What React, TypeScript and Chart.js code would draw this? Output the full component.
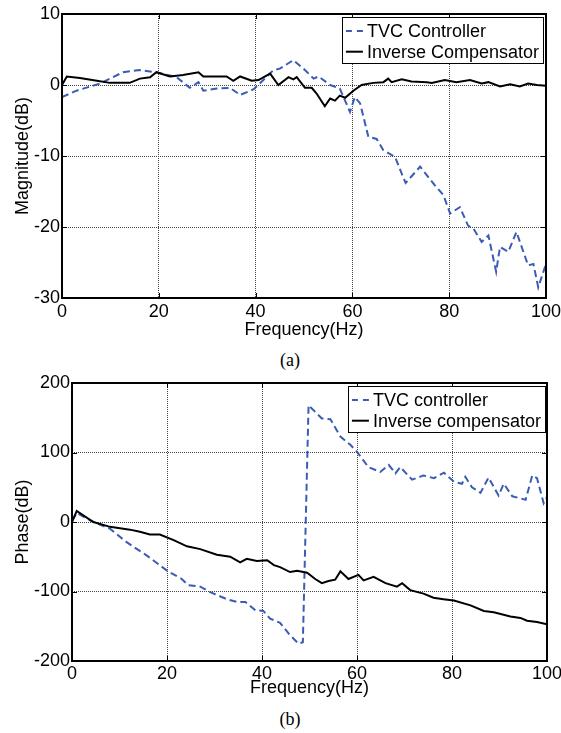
import React, { useEffect, useRef } from 'react';
import { Chart, registerables } from 'chart.js';
Chart.register(...registerables);

// ---- data ----
const freqTicks = [0, 20, 40, 60, 80, 100];
const magTicks = [-30, -20, -10, 0, 10];
const phaseTicks = [-200, -100, 0, 100, 200];

const magTvcFreq = [0, 3, 7.8, 12.6, 16, 19.5, 23.7, 26.4, 28.2, 29.2, 32, 34.7, 36.8, 39.6, 41.6, 43.7, 45, 47.8, 49.9, 52, 53, 55.4, 57.4, 59.5, 60.5, 61.6, 63.3, 65, 66.4, 68.8, 70.5, 71, 74, 77, 78.8, 80.2, 82.2, 83.9, 85, 86.7, 88.1, 89.7, 90.5, 92.2, 93.9, 96.3, 97.4, 98.4, 100];
const magTvcDb = [-1.7, -0.8, 0.2, 1.8, 2.1, 1.8, 1.1, -0.4, 0.4, -0.8, -0.5, -0.4, -1.4, -0.6, 0.7, 2.1, 2.3, 3.5, 2.3, 0.9, 1.2, 0, -0.5, -3.8, -1.7, -2.6, -7.3, -7.6, -9.2, -10.1, -13, -13.8, -11.5, -14.1, -15.5, -18.1, -17.2, -19.8, -20.2, -22.1, -21.2, -26.3, -22.8, -23.5, -20.7, -25.4, -25.2, -28.5, -25.2];

const magInvFreq = [0, 1, 3.7, 7.2, 9.9, 14, 16.1, 18.2, 19.5, 22.3, 25, 28.2, 29.2, 34, 35.4, 36.8, 39.2, 40.6, 43, 44.7, 46.8, 47.8, 48.5, 50.2, 51.6, 52.6, 54.3, 55.4, 56.4, 57.4, 58.5, 60.2, 61.9, 64.3, 66.4, 67.4, 68.1, 70.2, 72.2, 75.4, 76.4, 79.1, 81.5, 84.3, 86.7, 88.1, 90.5, 92.6, 94.6, 96.3, 98.1, 100];
const magInvDb = [0, 1.2, 1.0, 0.6, 0.3, 0.3, 0.9, 1.1, 1.8, 1.2, 1.4, 1.8, 1.2, 1.2, 0.6, 1.2, 0.6, 0.7, 1.6, 0, 1.1, 0.8, 1.1, -0.4, -0.4, -1.2, -3.0, -1.9, -2.2, -1.5, -1.8, -0.8, 0, 0.3, 0.4, 0.9, 0.4, 0.8, 0.5, 0.4, 0.3, 0.7, 0.4, 0.7, 0.2, 0.4, -0.2, 0.1, -0.2, 0.2, 0, -0.1];

const phaseTvcFreq = [0, 1, 4.5, 8, 11.5, 15.7, 20, 23.1, 24.5, 27, 29.1, 32.6, 34.7, 36.5, 38.6, 40.3, 41.7, 43.8, 45.9, 47.7, 48.6, 49.8, 52.6, 54.4, 56.5, 58.6, 60, 62.4, 64.9, 66.7, 68.1, 69.1, 71.6, 74, 76.2, 78.3, 80.4, 82.1, 82.8, 84.2, 86, 87.7, 89.8, 90.9, 92.7, 95.5, 96.9, 97.9, 99.3, 100];
const phaseTvcDeg = [2, 13, 0, -9.6, -29, -48, -70, -82, -91, -93, -101, -111, -115, -115, -127, -128, -139, -145, -163, -175, -173, 168, 149, 148, 123, 111, 101, 79, 72, 82, 70, 79, 61, 67, 63, 71, 58, 55, 65, 50, 42, 64, 38, 55, 37, 32, 67, 63, 27, 36];

const phaseInvFreq = [0, 1, 4.5, 8, 12.2, 14.3, 16.4, 18.5, 21.4, 24.2, 27, 30.5, 33.3, 35.4, 36.8, 38.9, 41.1, 42.5, 43.8, 45.9, 47.4, 49.5, 51.2, 52.6, 54, 55.4, 56.5, 58.2, 60.3, 61.4, 63.5, 66, 68.4, 69.5, 71.2, 74, 76.1, 78.2, 80.4, 83.9, 86.7, 88.8, 92.3, 94.4, 95.8, 97.9, 100];
const phaseInvDeg = [0, 16, 0, -7, -11, -14, -18, -18, -26, -35, -39, -47, -50, -58, -53, -56, -55, -62, -65, -72, -70, -73, -82, -88, -85, -83, -71, -82, -76, -84, -79, -88, -93, -88, -98, -103, -109, -111, -113, -120, -128, -130, -136, -138, -142, -144, -147];

const magLegend = ['TVC Controller', 'Inverse Compensator'];
const phaseLegend = ['TVC controller', 'Inverse compensator'];

const FONT = '"Liberation Sans", Arial, sans-serif';
const BLUE = '#3a5cb3';

const toPoints = (xs: number[], ys: number[]) => xs.map((x, i) => ({ x, y: ys[i] }));

const framePlugin = {
  id: 'matlabFrame',
  afterDatasetsDraw(chart: any, _args: any, opts: any) {
    const { ctx, chartArea: a, scales } = chart;
    const xs = scales.x;
    const ys = scales.y;
    ctx.save();
    ctx.strokeStyle = '#000';
    ctx.lineWidth = 1;
    ctx.setLineDash([]);
    ctx.beginPath();
    xs.ticks.forEach((t: any) => {
      const px = Math.round(xs.getPixelForValue(t.value)) + 0.5;
      ctx.moveTo(px, a.bottom);
      ctx.lineTo(px, a.bottom - 5);
      ctx.moveTo(px, a.top);
      ctx.lineTo(px, a.top + 5);
    });
    ys.ticks.forEach((t: any) => {
      const py = Math.round(ys.getPixelForValue(t.value)) + 0.5;
      ctx.moveTo(a.left, py);
      ctx.lineTo(a.left + 5, py);
      ctx.moveTo(a.right, py);
      ctx.lineTo(a.right - 5, py);
    });
    ctx.stroke();
    ctx.lineWidth = 2;
    ctx.strokeRect(a.left, a.top, a.right - a.left, a.bottom - a.top);

    // legend box
    const labels: string[] = opts.labels;
    ctx.font = '18px ' + FONT;
    const tw = Math.max(...labels.map((l) => ctx.measureText(l).width));
    const w = 4 + 17 + 4 + tw + 4;
    const h = 46;
    const right = a.right - opts.insetRight;
    const left = right - w;
    const top = a.top + opts.insetTop;
    ctx.fillStyle = '#fff';
    ctx.fillRect(left, top, w, h);
    ctx.lineWidth = 1;
    ctx.strokeStyle = '#000';
    ctx.strokeRect(Math.round(left) + 0.5, top + 0.5, Math.round(w), h);
    const rows = [top + 14, top + 34.7];
    const styles = [
      { color: BLUE, dash: [6, 5] },
      { color: '#000', dash: [] as number[] },
    ];
    rows.forEach((ry, i) => {
      ctx.strokeStyle = styles[i].color;
      ctx.lineWidth = 2;
      ctx.setLineDash(styles[i].dash);
      ctx.beginPath();
      ctx.moveTo(left + 4, ry);
      ctx.lineTo(left + 21, ry);
      ctx.stroke();
      ctx.setLineDash([]);
      ctx.fillStyle = '#000';
      ctx.textBaseline = 'middle';
      ctx.textAlign = 'left';
      ctx.fillText(labels[i], left + 25, ry + 1);
    });
    ctx.restore();
  },
};

type PlotProps = {
  top: number;
  height: number;
  yWidth: number;
  xHeight: number;
  padTop: number;
  padRight: number;
  yMin: number;
  yMax: number;
  yStep: number;
  yTitle: string;
  xTitlePad: number;
  xTickPad: number;
  series: { pts: { x: number; y: number }[]; color: string; dash: number[] }[];
  legend: string[];
  insetRight: number;
  insetTop: number;
};

function Plot(p: PlotProps) {
  const ref = useRef<HTMLCanvasElement | null>(null);
  useEffect(() => {
    if (!ref.current) return;
    const chart = new Chart(ref.current, {
      type: 'line',
      data: {
        datasets: p.series.map((s, i) => ({
          data: s.pts,
          borderColor: s.color,
          borderWidth: 2,
          borderDash: s.dash,
          pointRadius: 0,
          tension: 0,
          fill: false,
          order: i === 0 ? 2 : 1,
        })),
      },
      options: {
        responsive: false,
        animation: false,
        parsing: false as any,
        layout: { padding: { top: p.padTop, right: p.padRight, left: 0, bottom: 0 } },
        plugins: {
          legend: { display: false },
          tooltip: { enabled: false },
          matlabFrame: { labels: p.legend, insetRight: p.insetRight, insetTop: p.insetTop },
        } as any,
        scales: {
          x: {
            type: 'linear',
            min: 0,
            max: 100,
            afterBuildTicks: (s: any) => {
              s.ticks = freqTicks.map((v) => ({ value: v }));
            },
            afterFit: (s: any) => {
              s.height = p.xHeight;
              s.paddingLeft = 0;
              s.paddingRight = 0;
            },
            ticks: { font: { size: 18, family: FONT }, color: '#000', padding: p.xTickPad, maxRotation: 0 },
            grid: { color: '#444', lineWidth: 1, drawTicks: false },
            border: { display: false, dash: [1, 1] },
            title: {
              display: true,
              text: 'Frequency(Hz)',
              font: { size: 18, family: FONT, lineHeight: 1 },
              color: '#000',
              padding: { top: 0, bottom: p.xTitlePad },
            },
          },
          y: {
            type: 'linear',
            min: p.yMin,
            max: p.yMax,
            afterBuildTicks: (s: any) => {
              const arr: { value: number }[] = [];
              for (let v = p.yMin; v <= p.yMax; v += p.yStep) arr.push({ value: v });
              s.ticks = arr;
            },
            afterFit: (s: any) => {
              s.width = p.yWidth;
              s.paddingTop = 0;
              s.paddingBottom = 0;
            },
            ticks: { font: { size: 18, family: FONT }, color: '#000', padding: 2 },
            grid: { color: '#444', lineWidth: 1, drawTicks: false },
            border: { display: false, dash: [1, 1] },
            title: {
              display: true,
              text: p.yTitle,
              font: { size: 18, family: FONT, lineHeight: 1 },
              color: '#000',
              padding: { top: 14, bottom: 0 },
            },
          },
        },
      },
      plugins: [framePlugin],
    });
    return () => chart.destroy();
  }, []);
  return (
    <canvas
      ref={ref}
      width={561}
      height={p.height}
      style={{ position: 'absolute', left: 0, top: p.top, width: 561, height: p.height }}
    />
  );
}

export default function App() {
  const caption: React.CSSProperties = {
    position: 'absolute',
    left: 250,
    width: 80,
    textAlign: 'center',
    fontFamily: '"Liberation Serif", "Times New Roman", serif',
    fontSize: 18,
    lineHeight: '20px',
  };
  return (
    <div style={{ position: 'absolute', left: 0, top: 0, width: 561, height: 733, background: '#fff' }}>
      <Plot
        top={0}
        height={345}
        yWidth={62}
        xHeight={47}
        padTop={14}
        padRight={15}
        yMin={magTicks[0]}
        yMax={magTicks[magTicks.length - 1]}
        yStep={10}
        yTitle="Magnitude(dB)"
        xTitlePad={6}
        xTickPad={3}
        series={[
          { pts: toPoints(magTvcFreq, magTvcDb), color: BLUE, dash: [7, 4] },
          { pts: toPoints(magInvFreq, magInvDb), color: '#000', dash: [] },
        ]}
        legend={magLegend}
        insetRight={3}
        insetTop={3}
      />
      <div style={{ ...caption, top: 350 }}>(a)</div>
      <Plot
        top={360}
        height={340}
        yWidth={72}
        xHeight={39}
        padTop={23}
        padRight={14}
        yMin={phaseTicks[0]}
        yMax={phaseTicks[phaseTicks.length - 1]}
        yStep={100}
        yTitle="Phase(dB)"
        xTitlePad={3}
        xTickPad={2}
        series={[
          { pts: toPoints(phaseTvcFreq, phaseTvcDeg), color: BLUE, dash: [7, 4] },
          { pts: toPoints(phaseInvFreq, phaseInvDeg), color: '#000', dash: [] },
        ]}
        legend={phaseLegend}
        insetRight={2}
        insetTop={3}
      />
      <div style={{ ...caption, top: 709 }}>(b)</div>
    </div>
  );
}
